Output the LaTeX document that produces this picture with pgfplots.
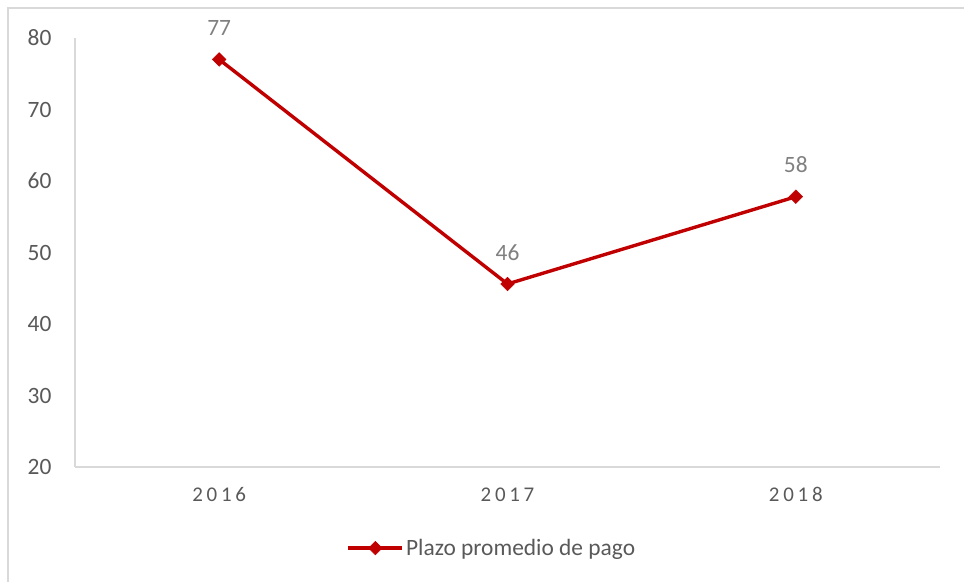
\documentclass[border=0pt]{standalone}
\usepackage{fontspec}
\setmainfont{Carlito}
\newfontfamily\spaced[LetterSpace=18]{Carlito}
\usepackage{pgfplots}
\pgfplotsset{compat=1.18}
\definecolor{linered}{HTML}{C00000}
\definecolor{ticktext}{HTML}{595959}
\definecolor{labtext}{HTML}{808080}
\definecolor{axisgray}{HTML}{D9D9D9}
\begin{document}
\begin{tikzpicture}[x=1bp,y=1bp]
\useasboundingbox (-75,-115) rectangle (889,467);
\draw[axisgray, line width=1.2bp] (-67,-116) -- (-67,459) -- (890,459);
\begin{axis}[
  at={(0,0)}, anchor=south west,
  scale only axis, width=865bp, height=429bp,
  xmin=-0.5, xmax=2.5, ymin=20, ymax=80,
  xtick={0,1,2}, xticklabels={2016,2017,2018},
  x tick label style={font=\spaced\fontsize{21}{23}\selectfont, text=ticktext, yshift=-17bp},
  ytick={20,30,...,80},
  y tick label style={font=\fontsize{23.5}{25}\selectfont, text=ticktext, xshift=-20bp},
  /pgf/number format/assume math mode=true,
  axis x line*=bottom, axis y line*=left,
  axis line style={axisgray, line width=1.2bp},
  x axis line style={-}, y axis line style={-},
  major tick length=0pt,
  legend style={at={(0.482,-0.189)}, anchor=center, draw=none, fill=none,
     font=\fontsize{23.5}{25}\selectfont, text=ticktext, legend columns=1},
  legend cell align=left,
  legend image code/.code={
    \draw[#1, mark repeat=2, mark phase=2] plot coordinates {(0bp,0bp) (27bp,0bp) (54bp,0bp)};
  },
  clip=false,
]
\addplot[linered, line width=3.4bp, mark=square*, mark size=4.8bp,
  mark options={fill=linered, line width=0.5bp, rotate=45},
  nodes near coords, point meta=explicit symbolic,
  every node near coord/.append style={font=\fontsize{23.5}{25}\selectfont, text=labtext, anchor=south, yshift=20bp}]
  coordinates {(0,77) [77] (1,45.6) [46] (2,57.8) [58]};
\addlegendentry{Plazo promedio de pago}
\end{axis}
\end{tikzpicture}
\end{document}
